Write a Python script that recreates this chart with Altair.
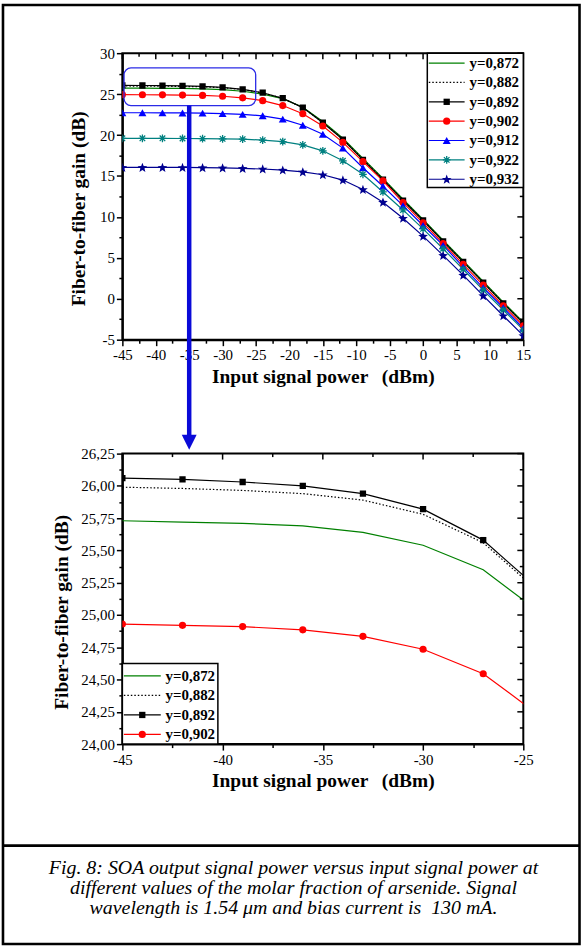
import math
import altair as alt
import pandas as pd

# ---------------- data ----------------
power = [-45, -42, -39, -36, -33, -30, -27, -24, -21, -18, -15, -12, -9, -6, -3, 0, 3, 6, 9, 12, 15]

g872 = [25.73, 25.72, 25.71, 25.69, 25.64, 25.54, 25.35, 25.00, 24.45, 23.40, 21.65, 19.60, 17.15, 14.70, 12.17, 9.70, 7.15, 4.65, 2.12, -0.42, -2.85]
g882 = [25.99, 25.98, 25.965, 25.94, 25.89, 25.78, 25.56, 25.15, 24.48, 23.35, 21.55, 19.50, 17.05, 14.60, 12.07, 9.60, 7.05, 4.55, 2.02, -0.52, -2.95]
g892 = [26.06, 26.05, 26.03, 26.00, 25.94, 25.82, 25.58, 25.17, 24.50, 23.35, 21.50, 19.45, 16.97, 14.55, 12.00, 9.56, 7.00, 4.50, 1.98, -0.57, -3.00]
g902 = [24.93, 24.92, 24.91, 24.885, 24.835, 24.735, 24.545, 24.20, 23.60, 22.60, 21.10, 19.10, 16.75, 14.40, 11.75, 9.27, 6.75, 4.20, 1.66, -0.85, -3.30]
g912 = [22.72, 22.72, 22.71, 22.70, 22.68, 22.62, 22.52, 22.35, 21.95, 21.20, 20.10, 18.40, 16.00, 13.75, 11.38, 8.95, 6.52, 3.90, 1.34, -1.10, -3.60]
g922 = [19.60, 19.60, 19.60, 19.58, 19.56, 19.53, 19.50, 19.38, 19.20, 18.80, 18.07, 16.85, 15.20, 13.05, 10.85, 8.54, 6.11, 3.60, 1.05, -1.37, -3.80]
g932 = [16.05, 16.05, 16.05, 16.04, 16.02, 15.98, 15.92, 15.85, 15.72, 15.50, 15.15, 14.50, 13.35, 11.80, 9.84, 7.65, 5.30, 2.88, 0.38, -2.07, -4.50]

series_names = ["y=0,872", "y=0,882", "y=0,892", "y=0,902", "y=0,912", "y=0,922", "y=0,932"]
series_gains = [g872, g882, g892, g902, g912, g922, g932]

x_title = "Input signal power\u00a0\u00a0\u2009(dBm)"
y_title = "Fiber-to-fiber gain (dB)"
caption_lines = [
    "Fig. 8: SOA output signal power versus input signal power at",
    "different values of the molar fraction of arsenide. Signal",
    "wavelength is 1.54 \u03bcm and bias current is \u00a0130 mA.",
]

rows = []
for name, gains in zip(series_names, series_gains):
    for p, g in zip(power, gains):
        rows.append({"power": p, "gain": g, "series": name})
df = pd.DataFrame(rows)
one = pd.DataFrame({"k": [0]})

# ---------------- styles ----------------
FONT = "Liberation Serif"


def star_path(n=5, r_in=0.42):
    pts = []
    for k in range(2 * n):
        r = 1.0 if k % 2 == 0 else r_in
        a = -math.pi / 2 + k * math.pi / n
        pts.append(f"{r * math.cos(a):.3f},{r * math.sin(a) + 0.08:.3f}")
    return "M" + "L".join(pts) + "Z"


ASTERISK = "M-1,0L1,0M0,-1L0,1M-0.72,-0.72L0.72,0.72M-0.72,0.72L0.72,-0.72"
STAR = star_path()

style = {
    "y=0,872": dict(color="#008000", dash=None, shape=None),
    "y=0,882": dict(color="#000000", dash=[1.5, 2.0], shape=None),
    "y=0,892": dict(color="#000000", dash=None, shape="square", size=40, filled=True),
    "y=0,902": dict(color="#ff0000", dash=None, shape="circle", size=52, filled=True),
    "y=0,912": dict(color="#0000ff", dash=None, shape="triangle-up", size=64, filled=True),
    "y=0,922": dict(color="#008080", dash=None, shape=ASTERISK, size=60, filled=False),
    "y=0,932": dict(color="#000090", dash=None, shape=STAR, size=105, filled=True),
}


def make_axis(orient, ticks, major, label_expr, title, title_pad, title_y=None):
    kw = dict(
        orient=orient, values=ticks, labelExpr=label_expr,
        tickSize={"condition": {"test": f"datum.value % {major} === 0", "value": 6}, "value": 3.5},
        tickColor="black", tickWidth=1.5, domainColor="black", domainWidth=2,
        labelFont=FONT, labelFontSize=15, labelColor="black", labelPadding=2,
        labelFlush=False, labelOverlap=False, labelBound=False,
        title=title, titleFont=FONT, titleFontSize=19.5, titleFontWeight="bold",
        titleColor="black", titlePadding=title_pad, grid=False,
    )
    if title_y is not None:
        kw["titleY"] = title_y
    return alt.Axis(**kw)


def legend_layers(names, box, x_line, x_mark, x_text, y0, dy):
    out = [alt.Chart(one).mark_rect(fill="white", stroke="black", strokeWidth=1.5).encode(
        x=alt.value(box[0]), x2=alt.value(box[1]), y=alt.value(box[2]), y2=alt.value(box[3]))]
    for i, name in enumerate(names):
        st = style[name]
        yy = y0 + dy * i
        rk = dict(color=st["color"], strokeWidth=1.2)
        if st["dash"]:
            rk["strokeDash"] = st["dash"]
        out.append(alt.Chart(one).mark_rule(**rk).encode(
            x=alt.value(x_line[0]), x2=alt.value(x_line[1]), y=alt.value(yy)))
        if st["shape"]:
            out.append(alt.Chart(one).mark_point(
                shape=st["shape"], size=st["size"], filled=st["filled"], color=st["color"],
                opacity=1, strokeWidth=1.3).encode(x=alt.value(x_mark), y=alt.value(yy)))
        out.append(alt.Chart(one).mark_text(
            font=FONT, fontSize=15, fontWeight="bold", align="left", baseline="middle",
            color="black").encode(x=alt.value(x_text), y=alt.value(yy), text=alt.value(name)))
    return out


def panel(names, xdom, ydom, xticks, yticks, xmaj, ymaj, ylab_expr, W, H, ytitle_pad, ytitle_y, leg):
    xs = alt.Scale(domain=xdom, nice=False, zero=False)
    ys = alt.Scale(domain=ydom, nice=False, zero=False)
    xlab = f"datum.value % {xmaj} === 0 ? '' + datum.value : ''"
    xaxis = make_axis("bottom", xticks, xmaj, xlab, x_title, 5)
    yaxis = make_axis("left", yticks, ymaj, ylab_expr, y_title, ytitle_pad, ytitle_y)

    def X(field="power"):
        return alt.X(f"{field}:Q", scale=xs, axis=xaxis)

    def Y(field="gain"):
        return alt.Y(f"{field}:Q", scale=ys, axis=yaxis)

    layers = []
    for name in names:
        st = style[name]
        d = df[df.series == name]
        lk = dict(color=st["color"], strokeWidth=1.2, clip=True)
        if st["dash"]:
            lk["strokeDash"] = st["dash"]
        layers.append(alt.Chart(d).mark_line(**lk).encode(x=X(), y=Y()))
    for name in names:
        st = style[name]
        if not st["shape"]:
            continue
        d = df[df.series == name]
        layers.append(alt.Chart(d).mark_point(
            shape=st["shape"], size=st["size"], filled=st["filled"], color=st["color"],
            opacity=1, strokeWidth=1.3, clip=True).encode(x=X(), y=Y()))
    # inward ticks on top and right
    xmajor = [v for v in xticks if v % xmaj == 0]
    xminor = [v for v in xticks if v % xmaj != 0]
    ymajor = [v for v in yticks if v % ymaj == 0]
    yminor = [v for v in yticks if v % ymaj != 0]
    for vals, ln in ((xmajor, 6), (xminor, 3.5)):
        layers.append(alt.Chart(pd.DataFrame({"v": vals})).mark_rule(color="black", strokeWidth=1.5).encode(
            x=X("v"), y=alt.value(0), y2=alt.value(ln)))
    for vals, ln in ((ymajor, 6), (yminor, 3.5)):
        layers.append(alt.Chart(pd.DataFrame({"v": vals})).mark_rule(color="black", strokeWidth=1.5).encode(
            y=Y("v"), x=alt.value(W), x2=alt.value(W - ln)))
    layers += legend_layers(names, **leg)
    return layers, xs, ys, xaxis, yaxis


# ---------------- top panel ----------------
W1, H1 = 403, 288
top_layers, xs1, ys1, xa1, ya1 = panel(
    series_names, [-45, 15], [-5, 30],
    [-45 + 2.5 * i for i in range(25)], [-5 + 2.5 * i for i in range(15)],
    5, 5, "datum.value % 5 === 0 ? '' + datum.value : ''", W1, H1, 11, H1 / 2 + 12,
    dict(box=(306.5, W1, 0, 135), x_line=(308, 344), x_mark=326, x_text=349, y0=10, dy=19.45),
)

# zoom box and arrow
top_layers.append(alt.Chart(one).mark_rect(
    fillOpacity=0, stroke="#2b2be6", strokeWidth=1.3, cornerRadius=7).encode(
    x=alt.datum(-44.75, scale=xs1, axis=xa1), x2=alt.datum(-25.05),
    y=alt.datum(28.2, scale=ys1, axis=ya1), y2=alt.datum(23.6)))
top_layers.append(alt.Chart(one).mark_rule(color="#0a0ad8", strokeWidth=4.5).encode(
    x=alt.datum(-35, scale=xs1, axis=xa1), y=alt.datum(23.6, scale=ys1, axis=ya1), y2=alt.value(386)))
top_layers.append(alt.Chart(one).mark_point(
    shape="M-1,-1L1,-1L0,1Z", size=225, filled=True, color="#0a0ad8", opacity=1).encode(
    x=alt.datum(-35, scale=xs1, axis=xa1), y=alt.value(391)))

# page frame, separator and caption (drawn relative to top panel origin)
top_layers.append(alt.Chart(one).mark_rect(fillOpacity=0, stroke="black", strokeWidth=2.6).encode(
    x=alt.value(-120), x2=alt.value(459.5), y=alt.value(-48.5), y2=alt.value(895.5)))
top_layers.append(alt.Chart(one).mark_rule(color="black", strokeWidth=2.6).encode(
    x=alt.value(-120), x2=alt.value(459.5), y=alt.value(796.5)))
for i, line in enumerate(caption_lines):
    top_layers.append(alt.Chart(one).mark_text(
        font=FONT, fontStyle="italic", fontSize=20, align="center", baseline="middle",
        color="black").encode(x=alt.value(172), y=alt.value(819 + 20 * i), text=alt.value(line)))

top = alt.layer(*top_layers).properties(width=W1, height=H1)

# ---------------- bottom panel ----------------
W2, H2 = 403, 292
bot_layers, xs2, ys2, xa2, ya2 = panel(
    series_names[:4], [-45, -25], [24, 26.25],
    [-45 + 2.5 * i for i in range(9)], [24 + 0.125 * i for i in range(19)],
    5, 0.25, "datum.value % 0.25 === 0 ? replace(format(datum.value, '.2f'), '.', ',') : ''",
    W2, H2, 9, H2 / 2 + 13,
    dict(box=(0, 96, 211, H2), x_line=(1.5, 38.6), x_mark=20, x_text=43.4, y0=223.5, dy=19.6),
)
bottom = alt.layer(*bot_layers).properties(width=W2, height=H2)

chart = alt.vconcat(top, bottom, spacing=114.5, bounds="flush").properties(
    padding=0, background="white"
).configure_view(stroke="black", strokeWidth=2)

chart.save("out.html", embed_options={"renderer": "svg", "actions": False})
